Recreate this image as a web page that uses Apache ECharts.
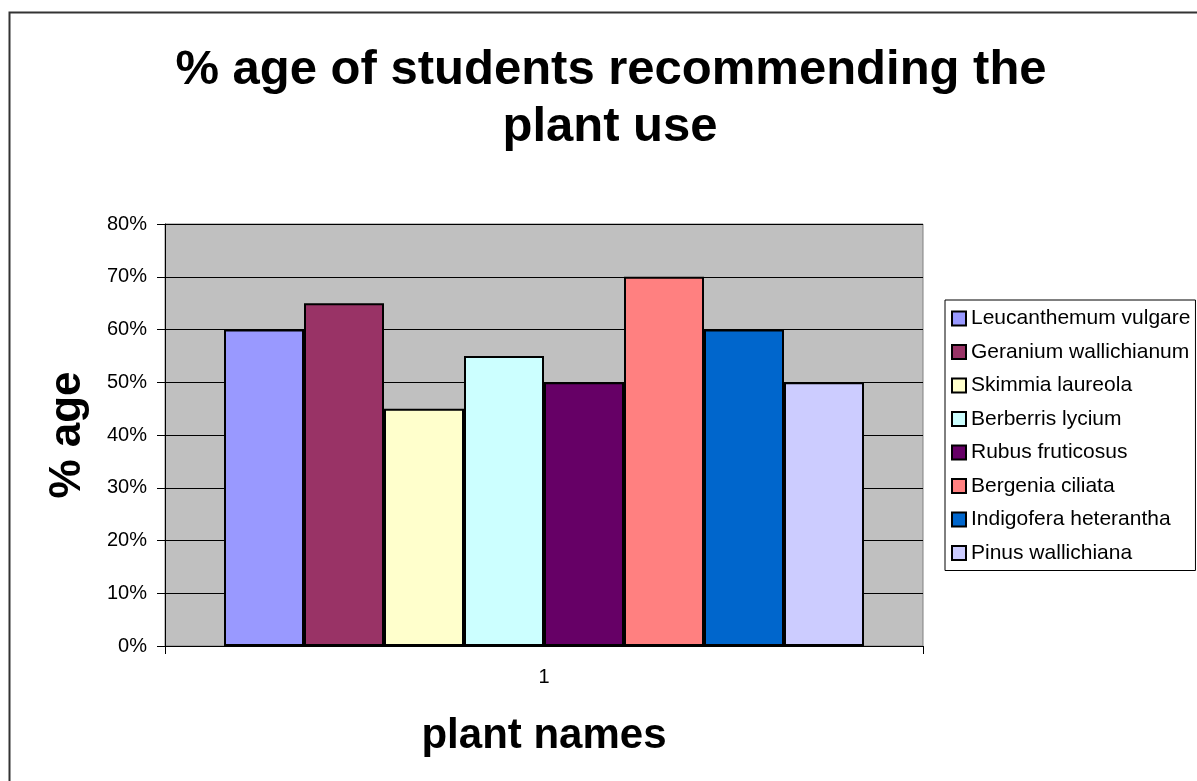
<!DOCTYPE html>
<html>
<head>
<meta charset="utf-8">
<script src="https://cdn.jsdelivr.net/npm/echarts@6/dist/echarts.min.js"></script>
<style>html,body{margin:0;padding:0;background:#fff;}#c{width:1197px;height:781px;}</style>
</head>
<body>
<div id="c"></div>
<script>
const titleLines = ['% age of students recommending the', 'plant use'];
const categories = ['1'];
const seriesNames = ['Leucanthemum vulgare','Geranium wallichianum','Skimmia laureola','Berberris lycium','Rubus fruticosus','Bergenia ciliata','Indigofera heterantha','Pinus wallichiana'];
const seriesValues = [0.60, 0.65, 0.45, 0.55, 0.50, 0.70, 0.60, 0.50];
const seriesColors = ['#9999FF','#993366','#FFFFCC','#CCFFFF','#660066','#FF8080','#0066CC','#CCCCFF'];
const yTicks = { min: 0, max: 0.8, interval: 0.1 };

const FONT = "'Liberation Sans', Arial, sans-serif";
const chart = echarts.init(document.getElementById('c'), null, { renderer: 'canvas' });
const series = seriesNames.map((n, i) => ({
  name: n,
  type: 'bar',
  data: [seriesValues[i]],
  barWidth: 80,
  barGap: '0%',
  itemStyle: { color: seriesColors[i], borderColor: '#000', borderWidth: 2 },
  emphasis: { disabled: true },
  animation: false
}));
chart.setOption({
  animation: false,
  textStyle: { fontFamily: FONT },
  graphic: [{
    type: 'rect', silent: true, z: -10,
    shape: { x: 9.5, y: 12.5, width: 1400, height: 1000 },
    style: { fill: '#fff', stroke: '#333', lineWidth: 2 }
  }, {
    type: 'text', silent: true, x: 611, y: 70,
    style: { text: titleLines[0], x: 0, y: 0, textAlign: 'center', textVerticalAlign: 'middle',
      font: "bold 49px 'Liberation Sans', Arial, sans-serif", fill: '#000' }
  }, {
    type: 'text', silent: true, x: 610, y: 127,
    style: { text: titleLines[1], x: 0, y: 0, textAlign: 'center', textVerticalAlign: 'middle',
      font: "bold 49px 'Liberation Sans', Arial, sans-serif", fill: '#000' }
  }],
  legend: {
    orient: 'vertical', left: 945, top: 300,
    data: seriesNames,
    icon: 'rect', itemWidth: 14, itemHeight: 14, itemGap: 12.5,
    padding: [8, 5, 7, 6],
    borderColor: '#000', borderWidth: 1, backgroundColor: '#fff',
    itemStyle: { borderColor: '#000', borderWidth: 2 },
    textStyle: { fontFamily: FONT, fontSize: 21, color: '#000', lineHeight: 21 },
    selectedMode: false
  },
  grid: {
    left: 165, top: 224, width: 758, height: 422,
    show: true, backgroundColor: '#C0C0C0', borderColor: '#808080', borderWidth: 1
  },
  xAxis: {
    type: 'category', data: categories,
    name: 'plant names', nameLocation: 'middle', nameGap: 69,
    nameTextStyle: { fontFamily: FONT, fontSize: 42, fontWeight: 'bold', color: '#000' },
    axisLine: { lineStyle: { color: '#000', width: 1 } },
    axisTick: { show: true, length: 8, lineStyle: { color: '#000' } },
    axisLabel: { fontFamily: FONT, fontSize: 20, color: '#000', margin: 21 }
  },
  yAxis: {
    type: 'value', min: yTicks.min, max: yTicks.max, interval: yTicks.interval,
    name: '% age', nameLocation: 'middle', nameGap: 75,
    nameTextStyle: { fontFamily: FONT, fontSize: 44, fontWeight: 'bold', color: '#000' },
    axisLine: { show: true, lineStyle: { color: '#000', width: 1 } },
    axisTick: { show: true, length: 8, lineStyle: { color: '#000' } },
    axisLabel: { fontFamily: FONT, fontSize: 20, color: '#000', margin: 18,
      formatter: v => Math.round(v * 100) + '%' },
    splitLine: { show: true, lineStyle: { color: '#000', width: 1 } }
  },
  series: series
});
</script>
</body>
</html>
